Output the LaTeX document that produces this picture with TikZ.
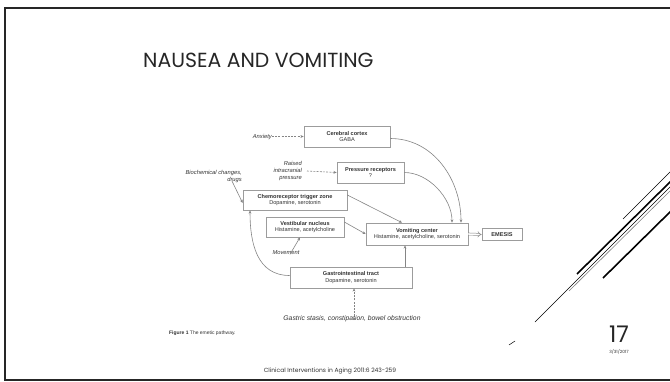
\documentclass[tikz,border=0pt]{standalone}
\usepackage{fontspec}
\setmainfont{Liberation Sans}
\newfontfamily\slidefont{Poppins}
\usetikzlibrary{arrows.meta,calc}
\definecolor{boxline}{HTML}{9C9C9C}
\definecolor{conn}{HTML}{858585}
\definecolor{txt}{HTML}{333333}
\begin{document}
\begin{tikzpicture}[x=1bp,y=-1bp,
  box/.style={draw=boxline, line width=0.7bp, fill=white, align=center, inner sep=0pt,
     text=txt, font=\fontsize{5.6}{6.8}\selectfont},
  lab/.style={text=txt, font=\fontsize{5.8}{7.4}\selectfont\itshape, inner sep=0pt},
  conn/.style={draw=conn, line width=0.6bp, -{Stealth[length=3.2bp,width=2.8bp]}},
  dconn/.style={conn, dash pattern=on 2bp off 1.2bp},
  deco/.style={line cap=butt}
]
\useasboundingbox (0,0) rectangle (670,381);
\fill[white] (0,0) rectangle (670,381);
% slide frame
\draw[line width=2.2bp, black!85] (675,8) -- (5,8) -- (5,380) -- (675,380);
% decorative diagonals
\draw[deco, line width=0.5bp] (623,219) -- (672,170);
\draw[deco, line width=1.6bp] (577,274) -- (672,180);
\draw[deco, line width=0.5bp] (535,322) -- (672,185);
\draw[deco, line width=0.6bp, gray] (569,291) -- (672,189);
\draw[deco, line width=1.6bp] (603,278) -- (672,210);
\draw[deco, line width=0.5bp] (509,345) -- (515,341);
% title
\node[anchor=base west, inner sep=0pt, font=\slidefont\fontsize{20.5}{20.5}\selectfont, text=black!85] (title) at (143,67) {NAUSEA AND VOMITING};
% boxes
\node[box, minimum width=86bp, minimum height=21bp] (cc) at (347,136.5) {\textbf{Cerebral cortex}\\GABA};
\node[box, minimum width=67bp, minimum height=21bp] (pr) at (370.5,172.5) {\textbf{Pressure receptors}\\?};
\node[box, minimum width=104bp, minimum height=20bp] (ctz) at (295,200) {\textbf{Chemoreceptor trigger zone}\\Dopamine, serotonin};
\node[box, minimum width=78bp, minimum height=20bp] (ves) at (305,227) {\textbf{Vestibular nucleus}\\Histamine, acetylcholine};
\node[box, minimum width=102bp, minimum height=22bp] (vc) at (417,234) {\textbf{Vomiting center}\\Histamine, acetylcholine, serotonin};
\node[box, minimum width=122bp, minimum height=21bp] (gi) at (351,277.5) {\textbf{Gastrointestinal tract}\\Dopamine, serotonin};
\node[box, minimum width=40bp, minimum height=12bp] (em) at (502,234.5) {\textbf{EMESIS}};
% labels
\node[lab, anchor=east] (anx) at (272,136.5) {Anxiety};
\node[lab, anchor=east, align=right] (rip) at (302,171) {Raised\\intracranial\\pressure};
\node[lab, anchor=east, align=right] (bio) at (242,176.5) {Biochemical changes,\\drugs};
\node[lab] (mov) at (286,252.5) {Movement};
\node[lab, font=\fontsize{6.8}{8}\selectfont\itshape] (gas) at (352,319) {Gastric stasis, constipation, bowel obstruction};
% connectors
\draw[dconn] (anx.east) -- (cc.west);
\draw[dconn] ([xshift=5bp]rip.east) -- (pr.west);
\draw[conn] ([xshift=-10bp,yshift=2bp]bio.south east) -- ([yshift=-3bp]ctz.west);
\draw[conn] ([yshift=5bp]ctz.east) -- ([xshift=-15bp]vc.north);
\draw[conn] ([yshift=5bp]ves.east) -- (vc.west);
\draw[conn] ([xshift=4bp,yshift=-4bp]mov.north) -- ([xshift=-5bp]ves.south);
\draw[conn] ([xshift=54bp]gi.north) -- ([xshift=54bp]gi.north |- vc.south);
\draw[conn] ([yshift=2bp]gi.west) to[out=180,in=270,looseness=1.1] ([xshift=-45bp]ctz.south);
\draw[dconn] ([xshift=2bp,yshift=-4bp]gas.north) -- ([xshift=2bp]gas.north |- gi.south);
\draw[conn] ([yshift=-2bp]cc.east) to[out=0,in=90,looseness=1.0] ([xshift=44bp]vc.north);
\draw[conn] (pr.east) to[out=0,in=90,looseness=0.9] ([xshift=35bp]vc.north);
\draw[draw=conn, line width=0.5bp, double=white, double distance=1.6bp, -{Implies[length=3bp]}] (vc.east) -- (em.west);
% caption and footer
\node[anchor=base west, inner sep=0pt, text=txt, font=\fontsize{5}{6}\selectfont] (cap) at (169,334) {\textbf{Figure 1} The emetic pathway.};
\node[anchor=base, inner sep=0pt, text=black!80, font=\slidefont\fontsize{6}{7}\selectfont] (foot) at (330,372) {Clinical Interventions in Aging 2011:6 243-259};
\node[anchor=base, inner sep=0pt, text=black!85, font=\slidefont\fontsize{23}{23}\selectfont] (num) at (619,342) {17};
\node[anchor=base, inner sep=0pt, text=black!80, font=\slidefont\fontsize{4.3}{5}\selectfont] (date) at (619,353) {3/31/2017};
\end{tikzpicture}
\end{document}
